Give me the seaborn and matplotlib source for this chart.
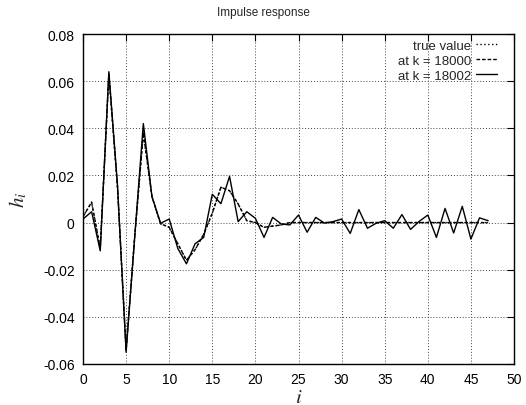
import numpy as np
import pandas as pd
import matplotlib
matplotlib.use("Agg")
import matplotlib.pyplot as plt
import seaborn as sns

# ---- data ----
idx = list(range(48))
h_18002 = [0.0015, 0.0046, -0.012, 0.064, 0.016, -0.055, -0.006, 0.042, 0.011, -0.0003,
           0.0015, -0.011, -0.0175, -0.009, -0.0063, 0.012, 0.008, 0.0196, 0.0004, 0.0046,
           0.0018, -0.0063, 0.0022, -0.0006, -0.001, 0.0032, -0.0041, 0.0022, -0.0002, 0.0004,
           0.0015, -0.0046, 0.0055, -0.0024, -0.0003, 0.0008, -0.0024, 0.0034, -0.0029, 0.0005,
           0.0032, -0.0063, 0.006, -0.0044, 0.0069, -0.007, 0.002, 0.0008]
h_18000 = [0.0025, 0.0087, -0.011, 0.063, 0.015, -0.054, -0.006, 0.038, 0.011, -0.0005,
           -0.002, -0.009, -0.016, -0.0115, -0.005, 0.004, 0.015, 0.0135, 0.0079, 0.0008,
           0.0, -0.002, -0.0015, -0.001, 0.0, 0.0, 0.0, 0.0, 0.0, 0.0,
           0.0, 0.0, 0.0, 0.0, 0.0, 0.0, 0.0, 0.0, 0.0, 0.0,
           0.0, 0.0, 0.0, 0.0, 0.0, 0.0, 0.0, 0.0]
h_true = [0.0025, 0.0085, -0.011, 0.063, 0.015, -0.054, -0.006, 0.038, 0.011, -0.0005,
          -0.002, -0.009, -0.016, -0.0115, -0.005, 0.004, 0.015, 0.0135, 0.0079, 0.0008,
          0.0, -0.002, -0.0015, -0.001, 0.0, 0.0, 0.0, 0.0, 0.0, 0.0,
          0.0, 0.0, 0.0, 0.0, 0.0, 0.0, 0.0, 0.0, 0.0, 0.0,
          0.0, 0.0, 0.0, 0.0, 0.0, 0.0, 0.0, 0.0]
series_labels = ["true value", "at k = 18000", "at k = 18002"]
xticks = [0, 5, 10, 15, 20, 25, 30, 35, 40, 45, 50]
yticks = [-0.06, -0.04, -0.02, 0, 0.02, 0.04, 0.06, 0.08]
ytick_labels = ["-0.06", "-0.04", "-0.02", "0", "0.02", "0.04", "0.06", "0.08"]
title = "Impulse response"

sns.set_style("white")
plt.rcParams["font.family"] = ["Liberation Sans", "DejaVu Sans"]
plt.rcParams["mathtext.fontset"] = "stix"

fig = plt.figure(figsize=(5.26, 4.06), dpi=100)
ax = fig.add_axes([83 / 526, 1 - 365 / 406, 431 / 526, 330 / 406])

styles = [(0, (1, 1.8)), (0, (2.6, 1.4)), "-"]
for vals, lab, ls in zip([h_true, h_18000, h_18002], series_labels, styles):
    df = pd.DataFrame({"i": idx, "h": vals})
    sns.lineplot(data=df, x="i", y="h", ax=ax, color="black", linewidth=1.0,
                 linestyle=ls, label=lab)

ax.set_xlim(0, 50)
ax.set_ylim(-0.06, 0.08)
ax.set_xticks(xticks)
ax.set_xticklabels([str(t) for t in xticks])
ax.set_yticks(yticks)
ax.set_yticklabels(ytick_labels)
ax.tick_params(direction="in", length=5, width=0.8, top=True, right=True,
               labelsize=10, colors="black", pad=6)
for s in ax.spines.values():
    s.set_color("black")
    s.set_linewidth(1.0)
ax.grid(True, color="#444444", linestyle=(0, (1, 2)), linewidth=0.7)
ax.set_axisbelow(True)

ax.set_xlabel(r"$i$", fontsize=15, labelpad=0.5)
ax.set_ylabel(r"$h_i$", fontsize=15, labelpad=10)
fig.text(0.5, 1 - 13 / 406, title, ha="center", va="center", fontsize=8.5)

leg = ax.legend(loc="upper right", bbox_to_anchor=(0.961, 0.984), frameon=False,
                markerfirst=False, fontsize=9.5, handlelength=1.6, handletextpad=0.35,
                labelspacing=0.22, borderpad=0, borderaxespad=0)

fig.savefig("out.png", dpi=100)
